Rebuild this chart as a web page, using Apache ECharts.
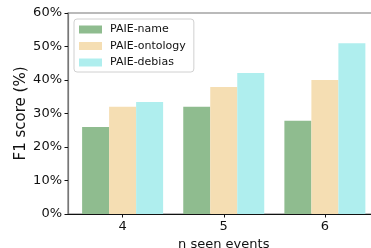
<!DOCTYPE html>
<html><head><meta charset="utf-8">
<script src="https://cdn.jsdelivr.net/npm/echarts@6/dist/echarts.min.js"></script>
<style>html,body{margin:0;padding:0;background:#fff}#c{width:371px;height:248px}</style>
</head><body><div id="c"></div>
<script>
const categories = ['4', '5', '6'];
const seriesNames = ['PAIE-name', 'PAIE-ontology', 'PAIE-debias'];
const paieName = [26, 32, 27.8];
const paieOntology = [32, 37.9, 40];
const paieDebias = [33.4, 42.1, 51];
const yTicks = [0, 10, 20, 30, 40, 50, 60];
const colors = ['#8fbc8f', '#f5deb3', '#afeeee'];

const font = 'DejaVu Sans';
const values = [paieName, paieOntology, paieDebias];
const chart = echarts.init(document.getElementById('c'), null, {renderer: 'canvas'});
chart.setOption({
  animation: false,
  textStyle: {fontFamily: font},
  grid: {left: 68, top: 13, bottom: 34, width: 311.5, outerBoundsMode: 'none', containLabel: false,
         show: true, borderColor: '#777', borderWidth: 1.2, backgroundColor: 'transparent'},
  legend: {
    left: 74, top: 19, orient: 'vertical',
    data: seriesNames,
    icon: 'rect', itemWidth: 23, itemHeight: 8, itemGap: 5.5,
    padding: [5, 8, 4, 5],
    backgroundColor: 'rgba(255,255,255,0.8)', borderColor: '#d0d0d0', borderWidth: 1, borderRadius: 3,
    textStyle: {fontFamily: font, fontSize: 11, color: '#111', padding: [0, 0, 0, 3]}
  },
  xAxis: {
    type: 'value', min: -0.54, max: 2.54,
    splitLine: {show: false},
    axisLine: {show: true, onZero: false, lineStyle: {color: '#111', width: 1.2}},
    axisTick: {show: true, customValues: [0, 1, 2], length: 3.5, lineStyle: {color: '#111'}},
    axisLabel: {customValues: [0, 1, 2], formatter: v => categories[Math.round(v)], fontFamily: font, fontSize: 13, color: '#111', margin: 6},
    name: 'n seen events', nameLocation: 'middle', nameGap: 24, nameMoveOverlap: false,
    nameTextStyle: {fontFamily: font, fontSize: 13, color: '#111'}
  },
  yAxis: {
    type: 'value', min: 0, max: 60, interval: 10,
    splitLine: {show: false},
    axisLine: {show: true, onZero: false, lineStyle: {color: '#777', width: 1.2}},
    axisTick: {show: true, length: 3.5, lineStyle: {color: '#111'}},
    axisLabel: {formatter: '{value}%', fontFamily: font, fontSize: 13, color: '#111', margin: 6},
    name: 'F1 score (%)', nameLocation: 'middle', nameGap: 39, nameMoveOverlap: false,
    nameTextStyle: {fontFamily: font, fontSize: 15, color: '#111'}
  },
  series: seriesNames.map((n, i) => ({
    name: n, type: 'bar', barWidth: 27, barGap: '0%',
    itemStyle: {color: colors[i]},
    data: values[i].map((v, j) => [j, v])
  }))
});
</script></body></html>
